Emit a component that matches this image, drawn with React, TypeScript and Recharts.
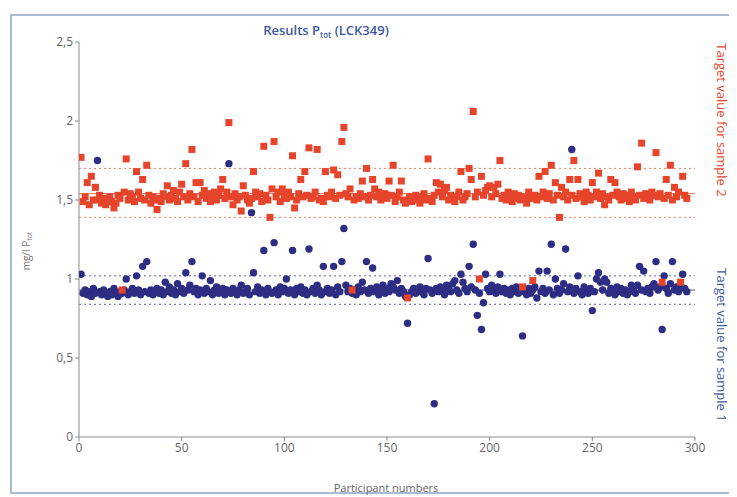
import React from 'react';
import { ScatterChart, Scatter, XAxis, YAxis, ReferenceLine } from 'recharts';

// Participant results, index 0 => participant 1
const sample2Values = [
  1.77, 1.49, 1.52, 1.61, 1.47, 1.65, 1.50, 1.58, 1.50, 1.53,
  1.48, 1.51, 1.47, 1.50, 1.52, 1.49, 1.45, 1.48, 1.53, 1.51,
  0.93, 1.55, 1.76, 1.50, 1.54, 1.52, 1.49, 1.68, 1.55, 1.51,
  1.63, 1.50, 1.72, 1.53, 1.48, 1.52, 1.50, 1.44, 1.51, 1.49,
  1.54, 1.52, 1.59, 1.50, 1.53, 1.56, 1.51, 1.49, 1.55, 1.60,
  1.52, 1.73, 1.50, 1.54, 1.82, 1.52, 1.61, 1.49, 1.61, 1.53,
  1.56, 1.51, 1.54, 1.49, 1.52, 1.55, 1.50, 1.53, 1.57, 1.63,
  1.51, 1.55, 1.99, 1.52, 1.47, 1.54, 1.50, 1.52, 1.43, 1.59,
  1.53, 1.50, 1.48, 1.51, 1.68, 1.55, 1.52, 1.54, 1.49, 1.84,
  1.53, 1.50, 1.39, 1.57, 1.87, 1.52, 1.55, 1.49, 1.57, 1.53,
  1.51, 1.55, 1.52, 1.78, 1.45, 1.50, 1.54, 1.63, 1.52, 1.68,
  1.53, 1.83, 1.51, 1.52, 1.55, 1.82, 1.50, 1.51, 1.49, 1.68,
  1.53, 1.52, 1.55, 1.69, 1.51, 1.66, 1.53, 1.87, 1.96, 1.54,
  1.52, 1.57, 0.93, 1.50, 1.52, 1.51, 1.54, 1.62, 1.52, 1.70,
  1.50, 1.53, 1.63, 1.57, 1.52, 1.55, 1.50, 1.52, 1.54, 1.51,
  1.62, 1.53, 1.72, 1.49, 1.52, 1.55, 1.62, 1.50, 1.48, 0.88,
  1.52, 1.49, 1.51, 1.53, 1.50, 1.48, 1.52, 1.54, 1.50, 1.76,
  1.51, 1.49, 1.53, 1.61, 1.55, 1.60, 1.52, 1.56, 1.58, 1.50,
  1.53, 1.51, 1.49, 1.52, 1.55, 1.68, 1.50, 1.52, 1.54, 1.70,
  1.63, 2.06, 1.52, 1.55, 1.00, 1.65, 1.53, 1.56, 1.58, 1.59,
  1.52, 1.58, 1.54, 1.60, 1.75, 1.51, 1.53, 1.50, 1.55, 1.52,
  1.49, 1.54, 1.51, 1.53, 1.50, 0.95, 1.52, 1.48, 1.55, 1.51,
  0.99, 1.53, 1.50, 1.65, 1.52, 1.55, 1.68, 1.51, 1.54, 1.72,
  1.50, 1.61, 1.53, 1.39, 1.58, 1.52, 1.55, 1.50, 1.63, 1.53,
  1.75, 1.51, 1.63, 1.54, 1.52, 1.49, 1.55, 1.53, 1.50, 1.61,
  1.52, 1.55, 1.67, 1.51, 1.54, 1.47, 1.52, 1.50, 1.63, 1.53,
  1.61, 1.55, 1.52, 1.50, 1.54, 1.51, 1.53, 1.49, 1.55, 1.52,
  1.50, 1.71, 1.53, 1.86, 1.51, 1.54, 1.52, 1.50, 1.55, 1.53,
  1.80, 1.52, 1.54, 0.98, 1.51, 1.63, 1.53, 1.72, 1.50, 1.58,
  1.52, 1.55, 0.98, 1.65, 1.53, 1.51,
];

const sample1Values = [
  1.03, 0.91, 0.93, 0.90, 0.92, 0.89, 0.94, 0.91, 1.75, 0.92,
  0.90, 0.93, 0.91, 0.89, 0.92, 0.90, 0.94, 0.91, 0.89, 0.92,
  0.91, 0.93, 1.00, 0.90, 0.92, 0.94, 0.91, 1.02, 0.93, 0.90,
  1.08, 0.92, 1.11, 0.91, 0.93, 0.90, 0.92, 0.94, 0.91, 0.93,
  0.90, 0.98, 0.92, 0.95, 0.91, 0.93, 0.90, 0.97, 0.92, 0.94,
  0.91, 1.04, 0.93, 0.96, 1.11, 0.92, 0.94, 0.90, 0.93, 1.02,
  0.91, 0.94, 0.92, 0.99, 0.90, 0.93, 0.95, 0.91, 0.92, 0.94,
  0.90, 0.93, 1.73, 0.91, 0.94, 0.92, 0.90, 0.93, 0.96, 0.91,
  0.92, 0.94, 0.90, 1.42, 1.04, 0.92, 0.95, 0.91, 0.93, 1.18,
  0.90, 0.94, 0.92, 0.91, 1.23, 0.93, 0.90, 0.95, 0.92, 0.94,
  1.00, 0.91, 0.93, 1.18, 0.90, 0.94, 0.92, 0.95, 0.91, 0.93,
  0.90, 1.19, 0.92, 0.94, 0.91, 0.96, 0.93, 0.90, 1.08, 0.92,
  0.94, 0.91, 0.93, 1.08, 0.90, 0.95, 0.92, 1.11, 1.32, 0.96,
  0.92, 0.94, 0.91, 0.93, 0.90, 0.95, 0.92, 0.98, 0.93, 1.11,
  0.91, 0.94, 1.07, 0.92, 0.95, 0.90, 0.93, 0.96, 0.91, 0.94,
  0.92, 0.97, 0.95, 0.93, 0.99, 0.91, 0.94, 0.92, 0.89, 0.72,
  0.90, 0.92, 0.94, 0.91, 0.93, 0.95, 0.92, 0.90, 0.94, 1.13,
  0.93, 0.91, 0.21, 0.94, 0.92, 0.95, 0.93, 0.90, 0.96, 0.94,
  0.92, 0.97, 0.99, 0.93, 0.91, 1.03, 0.98, 0.94, 0.92, 1.08,
  0.95, 1.22, 0.93, 0.77, 0.91, 0.68, 0.85, 1.03, 0.94, 0.92,
  0.96, 0.93, 0.91, 0.95, 1.03, 0.92, 0.94, 0.91, 0.93, 0.90,
  0.94, 0.92, 0.95, 0.91, 0.93, 0.64, 0.92, 0.90, 0.94, 0.91,
  0.93, 0.95, 0.88, 1.05, 0.92, 0.94, 0.91, 1.05, 0.93, 1.22,
  0.90, 1.00, 0.94, 0.91, 0.93, 0.97, 1.19, 0.92, 0.95, 1.82,
  0.91, 0.94, 1.02, 0.92, 0.90, 0.95, 0.93, 0.91, 0.94, 0.80,
  0.92, 1.00, 1.04, 0.98, 0.93, 1.00, 0.98, 0.91, 0.94, 0.92,
  0.90, 0.95, 0.92, 0.94, 0.91, 0.93, 0.90, 0.92, 0.96, 0.94,
  0.91, 0.96, 1.08, 0.93, 1.05, 0.92, 0.94, 0.91, 0.95, 0.97,
  1.11, 0.93, 0.95, 0.68, 1.02, 0.94, 0.91, 0.97, 1.11, 0.93,
  0.95, 0.92, 0.96, 1.03, 0.94, 0.92,
];

const xTicks = [0, 50, 100, 150, 200, 250, 300];
const yTicks = [0, 0.5, 1, 1.5, 2, 2.5];

const target2 = 1.54;
const target2Low = 1.39;
const target2High = 1.7;
const target1 = 0.93;
const target1Low = 0.84;
const target1High = 1.02;

const sample2Data = sample2Values.map((v, i) => ({ x: i + 1, y: v }));
const sample1Data = sample1Values.map((v, i) => ({ x: i + 1, y: v }));

const RED = '#e6452b';
const BLUE = '#2d2d83';
const FONT = '"Open Sans", "DejaVu Sans", sans-serif';

const Square = (props: any) => {
  const { cx, cy } = props;
  if (cx == null || cy == null) return null;
  return <rect x={cx - 3.5} y={cy - 3.5} width={7} height={7} fill={RED} />;
};

const Dot = (props: any) => {
  const { cx, cy } = props;
  if (cx == null || cy == null) return null;
  return <circle cx={cx} cy={cy} r={3.7} fill={BLUE} />;
};

const fmt = (v: number) => String(v).replace('.', ',');

export default function App() {
  const W = 729;
  const H = 489;
  return (
    <div style={{ position: 'relative', width: W, height: H }}>
      <ScatterChart
        width={W}
        height={H}
        margin={{ top: 34, right: 42, bottom: 30, left: 21 }}
      >
        <XAxis
          type="number"
          dataKey="x"
          domain={[0, 300]}
          ticks={xTicks}
          allowDataOverflow
          stroke="#8a8a8a"
          tickSize={4}
          tick={{ fill: '#666', fontSize: 12, fontFamily: FONT }}
          height={30}
        />
        <YAxis
          type="number"
          dataKey="y"
          domain={[0, 2.5]}
          ticks={yTicks}
          allowDataOverflow
          stroke="#8a8a8a"
          tickSize={4}
          width={50}
          tickFormatter={fmt}
          tick={{ fill: '#666', fontSize: 12, fontFamily: FONT }}
        />
        <ReferenceLine y={target2High} stroke="#ec7a5c" strokeDasharray="2 3" />
        <ReferenceLine y={target2Low} stroke="#ec7a5c" strokeDasharray="2 3" />
        <ReferenceLine y={target1High} stroke="#5a5fa8" strokeDasharray="2 3" />
        <ReferenceLine y={target1Low} stroke="#5a5fa8" strokeDasharray="2 3" />
        <ReferenceLine y={target2} stroke="#e8684a" />
        <ReferenceLine y={target1} stroke="#4a4f9a" />
        <Scatter data={sample1Data} shape={Dot} isAnimationActive={false} />
        <Scatter data={sample2Data} shape={Square} isAnimationActive={false} />
      </ScatterChart>
      <svg
        width={W}
        height={H}
        style={{ position: 'absolute', left: 0, top: 0, pointerEvents: 'none' }}
      >
        <rect x={3} y={7} width={722} height={478} fill="none" stroke="#a9bad4" strokeWidth={2} />
        <text x={318} y={27} textAnchor="middle" fill="#3b5b9e" fontSize={13} fontFamily={FONT} fontWeight={600}>
          Results P<tspan fontSize={8} dy={3}>tot</tspan><tspan dy={-3}> (LCK349)</tspan>
        </text>
        <text
          transform="translate(22,243) rotate(-90)"
          textAnchor="middle"
          fill="#777"
          fontSize={10}
          fontFamily={FONT}
        >
          mg/l P<tspan fontSize={7} dy={2}>tot</tspan>
        </text>
        <text x={378} y={484} textAnchor="middle" fill="#666" fontSize={11} fontFamily={FONT}>
          Participant numbers
        </text>
        <text
          transform="translate(709,112) rotate(90)"
          textAnchor="middle"
          fill={RED}
          fontSize={13}
          fontFamily={FONT}
        >
          Target value for sample 2
        </text>
        <text
          transform="translate(709,337) rotate(90)"
          textAnchor="middle"
          fill="#3b5b9e"
          fontSize={13}
          fontFamily={FONT}
        >
          Target value for sample 1
        </text>
      </svg>
    </div>
  );
}
